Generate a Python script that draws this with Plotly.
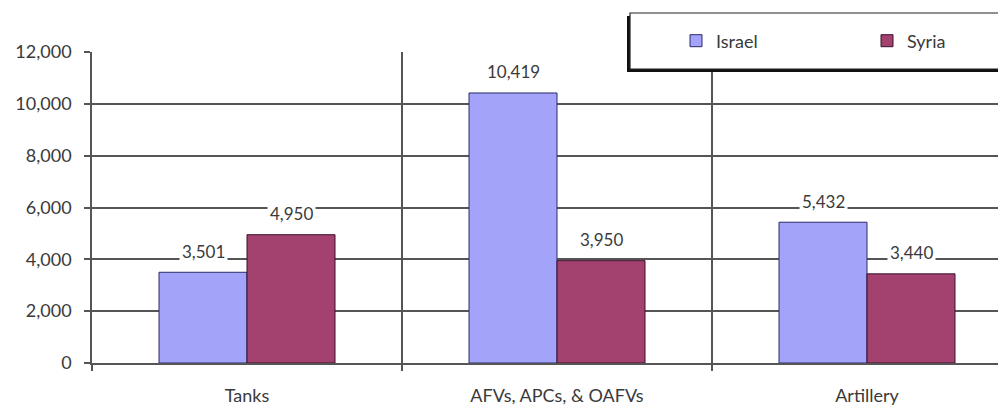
import plotly.graph_objects as go

categories = ["Tanks", "AFVs, APCs, &amp; OAFVs", "Artillery"]
israel = [3501, 10419, 5432]
syria = [4950, 3950, 3440]
series_names = ["Israel", "Syria"]
y_ticks = [0, 2000, 4000, 6000, 8000, 10000, 12000]

# page is offset by the body margin (8px), so figure is sized to the remaining window
PAGE_OFF = 8
W, H = 1006 - PAGE_OFF, 406 - PAGE_OFF
PL, PT, PB = 92, 52, 363          # page coords of plot left, top, bottom
L, T = PL - PAGE_OFF, PT - PAGE_OFF
B = 406 - PB
plot_w = W - L
cat_px = 310
bargap = 1 - 176 / cat_px

FONT = "Lato"
TXT = "#3a3a3a"
GRID = "#555555"

fig = go.Figure()
fig.add_trace(go.Bar(name=series_names[0], x=categories, y=israel,
                     marker=dict(color="#a3a3f9", line=dict(color="#2a2a6a", width=1))))
fig.add_trace(go.Bar(name=series_names[1], x=categories, y=syria,
                     marker=dict(color="#a3416f", line=dict(color="#3a1030", width=1))))

off = (1 - bargap) / 4 * cat_px
annotations = []
for vals, sh in ((israel, -off), (syria, off)):
    for c, v in zip(categories, vals):
        annotations.append(dict(x=c, y=v, xref="x", yref="y", text=f"{v:,}", showarrow=False,
                                xshift=sh, yshift=21, yanchor="middle",
                                bgcolor="white", borderpad=2,
                                font=dict(family=FONT, size=17, color=TXT)))

def px_x(p):
    return (p - PL) / plot_w

def px_y(p):
    return (PB - p) / (PB - PT)

shapes = [
    dict(type="rect", xref="paper", yref="paper", layer="above",
         x0=px_x(627), x1=px_x(1100), y0=px_y(72), y1=px_y(16),
         fillcolor="#111111", line=dict(width=0)),
    dict(type="rect", xref="paper", yref="paper", layer="above",
         x0=px_x(630), x1=px_x(1100), y0=px_y(69), y1=px_y(13),
         fillcolor="white", line=dict(color="#222222", width=1.2)),
]

fig.update_layout(
    width=W, height=H,
    margin=dict(l=L, r=0, t=T, b=B, autoexpand=False),
    paper_bgcolor="white", plot_bgcolor="white",
    barmode="group", bargap=bargap, bargroupgap=0,
    showlegend=True,
    legend=dict(orientation="h", x=px_x(676), y=px_y(41), xanchor="left", yanchor="middle",
                bgcolor="rgba(0,0,0,0)", borderwidth=0,
                entrywidth=146, entrywidthmode="pixels",
                font=dict(family=FONT, size=18, color=TXT)),
    annotations=annotations,
    shapes=shapes,
    xaxis=dict(type="category", range=[-0.5, -0.5 + plot_w / cat_px],
               tickson="boundaries", showgrid=True, gridcolor=GRID, gridwidth=1.5,
               ticks="outside", ticklen=6, tickcolor=GRID, tickwidth=1.5,
               showline=True, linecolor=GRID, linewidth=1.5,
               ticklabelstandoff=16,
               tickfont=dict(family=FONT, size=18, color=TXT)),
    yaxis=dict(range=[0, 12000], tickvals=y_ticks, tickformat=",d",
               showgrid=True, gridcolor=GRID, gridwidth=1.5, zeroline=False,
               ticks="outside", ticklen=6, tickcolor=GRID, tickwidth=1.5,
               showline=True, linecolor=GRID, linewidth=1.5,
               ticklabelstandoff=9,
               tickfont=dict(family=FONT, size=18, color=TXT)),
)

fig.write_html("out.html")
